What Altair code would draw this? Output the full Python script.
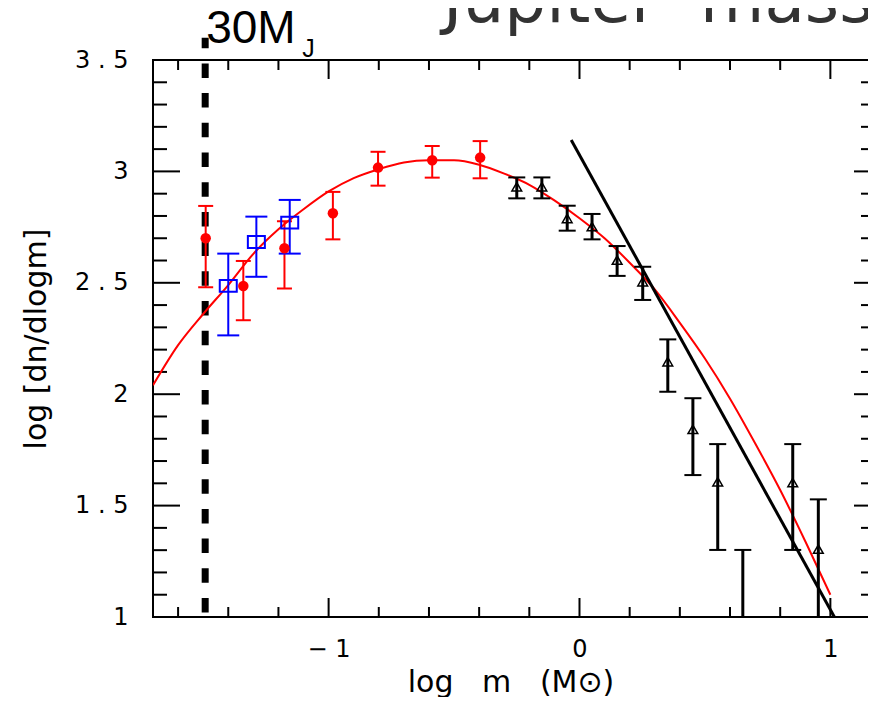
import altair as alt
import pandas as pd

# ---------------- data ----------------
# red filled circles (log m, log dn/dlogm, lower, upper)
red_x = [-1.49, -1.34, -1.176, -0.983, -0.803, -0.587, -0.396]
red_y = [2.70, 2.486, 2.655, 2.812, 3.017, 3.050, 3.062]
red_lo = [2.48, 2.332, 2.474, 2.695, 2.936, 2.972, 2.969]
red_hi = [2.845, 2.598, 2.776, 2.908, 3.088, 3.114, 3.136]

# blue open squares
blue_x = [-1.40, -1.288, -1.155]
blue_y = [2.486, 2.683, 2.770]
blue_lo = [2.264, 2.527, 2.631]
blue_hi = [2.631, 2.797, 2.872]

# black open triangles (None = point below the plotted range)
tri_x = [-0.25, -0.15, -0.049, 0.050, 0.150, 0.252, 0.352, 0.452, 0.551, 0.651, 0.850, 0.952]
tri_y = [2.931, 2.931, 2.789, 2.752, 2.602, 2.505, 2.146, 1.842, 1.607, None, 1.603, 1.305]
tri_lo = [2.879, 2.879, 2.734, 2.695, 2.531, 2.423, 2.011, 1.637, 1.301, 0.90, 1.301, 0.90]
tri_hi = [2.973, 2.973, 2.846, 2.809, 2.665, 2.572, 2.246, 1.982, 1.776, 1.301, 1.776, 1.528]

# red log-normal fit curve
curve_x = [-1.70, -1.60, -1.50, -1.40, -1.30, -1.20, -1.10, -1.00, -0.90, -0.80, -0.70,
           -0.60, -0.50, -0.40, -0.30, -0.20, -0.10, 0.00, 0.10, 0.20, 0.30, 0.40,
           0.50, 0.60, 0.70, 0.80, 0.90, 1.00]
curve_y = [2.04, 2.22, 2.36, 2.49, 2.63, 2.74, 2.83, 2.91, 2.97, 3.01, 3.04,
           3.05, 3.05, 3.03, 2.99, 2.94, 2.87, 2.79, 2.70, 2.59, 2.47, 2.32,
           2.16, 1.98, 1.78, 1.57, 1.34, 1.10]

# black straight power-law line
pl_x = [-0.033, 1.016]
pl_y = [3.141, 1.0]

# 30 Jupiter-mass limit
limit_x = -1.492
limit_top = 3.6

# axis tick positions
x_labels = [-1, 0, 1]
y_labels = [1, 1.5, 2, 2.5, 3, 3.5]
x_minor = [-1.6, -1.4, -1.2, -0.8, -0.6, -0.4, -0.2, 0.2, 0.4, 0.6, 0.8]
x_major = [-1.0, 0.0, 1.0]
y_minor = [1.1, 1.2, 1.3, 1.4, 1.6, 1.7, 1.8, 1.9, 2.1, 2.2, 2.3, 2.4,
           2.6, 2.7, 2.8, 2.9, 3.1, 3.2, 3.3, 3.4]
y_major = [1.5, 2.0, 2.5, 3.0]

# ---------------- chart ----------------
W, H = 715, 557
FONT = "DejaVu Sans"
LBL = "Liberation Sans"
NB = "\u00a0"

xsc = alt.Scale(domain=[-1.7, 1.15], nice=False, zero=False)
ysc = alt.Scale(domain=[1.0, 3.5], nice=False, zero=False)

x_axis = alt.Axis(values=x_labels, format="d", ticks=False, tickSize=0, domain=False, grid=False,
                  labelFont=FONT, labelFontSize=24, labelColor="black", labelPadding=20,
                  labelFlush=False, labelOverlap=False,
                  labelExpr="replace(datum.label, '\u2212', '\u2212 ')",
                  title="log" + NB * 3 + "m" + NB * 3 + "(M\u2299)", titleFont=FONT,
                  titleFontSize=30, titleFontWeight="normal", titleColor="black", titleY=74,
                  titleBaseline="alphabetic")
y_axis = alt.Axis(values=y_labels, format=".1~f", ticks=False, tickSize=0, domain=False, grid=False,
                  labelFont=FONT, labelFontSize=24, labelColor="black", labelPadding=25,
                  labelFlush=False, labelOverlap=False,
                  labelExpr="replace(datum.label, '.', ' . ')",
                  title="log [dn/dlogm]", titleFont=FONT, titleFontSize=30,
                  titleFontWeight="normal", titleColor="black", titleAngle=270,
                  titleX=-108, titleY=H / 2, titleBaseline="alphabetic", titleAlign="center")


def X(f="x"):
    return alt.X(f"{f}:Q", scale=xsc, axis=x_axis)


def Y(f="y"):
    return alt.Y(f"{f}:Q", scale=ysc, axis=y_axis)


layers = []

# frame (top, left, bottom) and inward ticks
one = pd.DataFrame({"k": [0]})
fr = dict(color="black", strokeWidth=2, clip=False)
layers += [
    alt.Chart(one).mark_rule(**fr).encode(x=alt.value(0), x2=alt.value(W + 2), y=alt.value(0)),
    alt.Chart(one).mark_rule(**fr).encode(x=alt.value(0), x2=alt.value(W + 2), y=alt.value(H)),
    alt.Chart(one).mark_rule(**fr).encode(x=alt.value(0), y=alt.value(-1), y2=alt.value(H + 1)),
]
dxmin = pd.DataFrame({"x": x_minor})
dxmaj = pd.DataFrame({"x": x_major})
dymin = pd.DataFrame({"y": y_minor})
dymaj = pd.DataFrame({"y": y_major})
tk = dict(color="black", strokeWidth=2)
layers += [
    alt.Chart(dxmin).mark_rule(**tk).encode(x=X(), y=alt.value(0), y2=alt.value(10)),
    alt.Chart(dxmaj).mark_rule(**tk).encode(x=X(), y=alt.value(0), y2=alt.value(19)),
    alt.Chart(dxmin).mark_rule(**tk).encode(x=X(), y=alt.value(H), y2=alt.value(H - 10)),
    alt.Chart(dxmaj).mark_rule(**tk).encode(x=X(), y=alt.value(H), y2=alt.value(H - 19)),
    alt.Chart(dymin).mark_rule(**tk).encode(y=Y(), x=alt.value(0), x2=alt.value(14)),
    alt.Chart(dymaj).mark_rule(**tk).encode(y=Y(), x=alt.value(0), x2=alt.value(27)),
    alt.Chart(dymin).mark_rule(**tk).encode(y=Y(), x=alt.value(W), x2=alt.value(W - 7)),
    alt.Chart(dymaj).mark_rule(**tk).encode(y=Y(), x=alt.value(W), x2=alt.value(W - 14)),
]

# dashed 30 M_J line
dlim = pd.DataFrame({"x": [limit_x], "y": [limit_top], "y2": [1.0]})
layers.append(
    alt.Chart(dlim).mark_rule(color="black", strokeWidth=7, strokeDash=[14.5, 15.2],
                              strokeDashOffset=4, clip=False)
    .encode(x=X(), y=Y(), y2="y2:Q")
)

# curves
dcurve = pd.DataFrame({"x": curve_x, "y": curve_y})
layers.append(alt.Chart(dcurve).mark_line(color="#ff0000", strokeWidth=2, interpolate="monotone",
                                          clip=True).encode(x=X(), y=Y()))
dpl = pd.DataFrame({"x": pl_x, "y": pl_y})
layers.append(alt.Chart(dpl).mark_line(color="black", strokeWidth=3, clip=True).encode(x=X(), y=Y()))


def err_layers(df, color, lw, cap):
    base = alt.Chart(df)
    return [
        base.mark_rule(color=color, strokeWidth=lw, clip=True).encode(x=X(), y=Y("lo"), y2="hi:Q"),
        base.mark_tick(orient="horizontal", color=color, size=cap, thickness=2, opacity=1,
                       clip=True).encode(x=X(), y=Y("lo")),
        base.mark_tick(orient="horizontal", color=color, size=cap, thickness=2, opacity=1,
                       clip=True).encode(x=X(), y=Y("hi")),
    ]


dred = pd.DataFrame({"x": red_x, "y": red_y, "lo": red_lo, "hi": red_hi})
dblue = pd.DataFrame({"x": blue_x, "y": blue_y, "lo": blue_lo, "hi": blue_hi})
dtri = pd.DataFrame({"x": tri_x, "y": tri_y, "lo": tri_lo, "hi": tri_hi})

layers += err_layers(dred, "#ff0000", 2, 15)
layers += err_layers(dblue, "#0000ff", 2, 22)
layers += err_layers(dtri, "black", 3, 17)

layers.append(alt.Chart(dred).mark_point(shape="circle", filled=True, size=110, color="#ff0000",
                                         opacity=1).encode(x=X(), y=Y()))
layers.append(alt.Chart(dblue).mark_point(shape="M-1,-0.7L1,-0.7L1,0.7L-1,0.7Z", filled=False,
                                          size=289, color="#0000ff", strokeWidth=2, opacity=1)
              .encode(x=X(), y=Y()))
layers.append(alt.Chart(dtri).mark_point(shape="triangle-up", filled=False, size=95, color="black",
                                         strokeWidth=1.5, opacity=1, clip=True)
              .encode(x=X(), y=Y()))

# annotations
dlab = pd.DataFrame({"x": [limit_x]})
layers.append(alt.Chart(dlab).mark_text(text="30M", font=LBL, fontSize=46, color="black",
                                        align="left", baseline="alphabetic", dx=1)
              .encode(x=X(), y=alt.value(-17)))
layers.append(alt.Chart(dlab).mark_text(text="J", font=LBL, fontSize=25, color="black",
                                        align="left", baseline="alphabetic", dx=97)
              .encode(x=X(), y=alt.value(-3)))
layers.append(alt.Chart(dlab).mark_text(text="Jupiter" + NB * 2 + "mass", font=FONT, fontSize=66,
                                        color="#333333", align="left", baseline="alphabetic")
              .encode(x=alt.value(290), y=alt.value(-38)))

chart = (
    alt.layer(*layers)
    .properties(width=W, height=H, autosize=alt.AutoSizeParams(type="none"),
                padding={"left": 145, "top": 52, "right": 0, "bottom": 80},
                background="white")
    .configure_view(strokeWidth=0)
)

chart.save("out.html", embed_options={"renderer": "svg", "actions": False})
